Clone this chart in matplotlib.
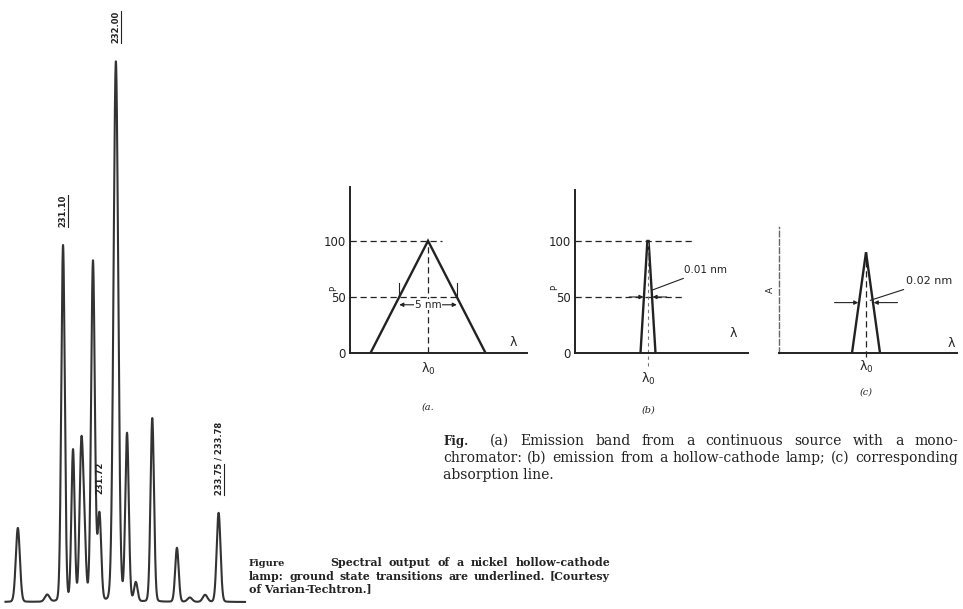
import numpy as np
import matplotlib
matplotlib.use("Agg")
import matplotlib.pyplot as plt
from matplotlib.lines import Line2D
from matplotlib.transforms import IdentityTransform

W, H = 963, 609
INK = "#222222"
SERIF = "DejaVu Serif"

# ---- nickel hollow-cathode spectrum (line position nm, relative height, width nm)
peak_nm = [230.33, 230.83, 231.10, 231.27, 231.41, 231.46, 231.61, 231.72,
           232.00, 232.19, 232.34, 232.62, 233.04, 233.26, 233.52, 233.75]
peak_height = [13.7, 1.3, 66, 28, 27, 12, 63, 16,
               100, 31, 3.5, 34, 10, 0.8, 1.3, 16.5]
peak_sigma = [0.035, 0.04, 0.03, 0.028, 0.03, 0.03, 0.032, 0.03,
              0.04, 0.03, 0.03, 0.03, 0.03, 0.04, 0.04, 0.033]
line_labels = ["232.00", "231.10", "231.72", "233.75 / 233.78"]
label_nm = [232.00, 231.10, 231.72, 233.75]
label_underlined = [True, True, False, True]

# ---- schematic line profiles (offset from lambda0 in nm, signal)
band_x = [-5, 0, 5]                      # (a) monochromator band
band_y = [0, 100, 0]
lamp_x = [-0.01, -0.0008, 0.0008, 0.01]  # (b) hollow-cathode emission
lamp_y = [0, 100, 100, 0]
abs_x = [-0.02, 0, 0.02]                 # (c) absorption line
abs_y = [0, 90, 0]
fwhm = [5, 0.01, 0.02]
fwhm_text = ["5 nm", "0.01 nm", "0.02 nm"]
p_ticks = [0, 50, 100]

caption_right = ["(a) Emission band from a continuous source with a mono-",
                 "chromator: (b) emission from a hollow-cathode lamp; (c) corresponding",
                 "absorption line."]
caption_left = ["Spectral output of a nickel hollow-cathode",
                "lamp: ground state transitions are underlined. [Courtesy",
                "of Varian-Techtron.]"]


def px_rect(x0, y0, x1, y1):
    return [x0 / W, 1 - y1 / H, (x1 - x0) / W, (y1 - y0) / H]


fig = plt.figure(figsize=(W / 100, H / 100), dpi=100)
fig.patch.set_facecolor("white")
renderer = fig.canvas.get_renderer()

# ------------------------------------------------------------------ spectrum
ax = fig.add_axes(px_rect(0, 0, 250, 609))
ax.set_xlim(230.026, 234.285)
ax.set_ylim(-7 / 5.4, 602 / 5.4)
ax.axis("off")

lam = np.linspace(230.12, 234.2, 4000)
sig = np.zeros_like(lam)
for c, h, s in zip(peak_nm, peak_height, peak_sigma):
    d = (lam - c) / s
    sig += h * (0.93 * np.exp(-0.5 * d ** 2) + 0.07 / (1 + d ** 2))
ax.plot(lam, sig, color="#333333", lw=1.5)

label_texts = []
for txt, nm, ul in zip(line_labels, label_nm, label_underlined):
    h = np.interp(nm, lam, sig)
    t = ax.annotate(txt, xy=(nm, h), xytext=(0, 13), textcoords="offset points",
                    rotation=90, ha="center", va="bottom", fontsize=6,
                    fontweight="bold", color=INK)
    label_texts.append((t, ul, txt))

# ------------------------------------------------------------------ panels
LAM0 = "λ$_0$"


def profile_panel(rect, xlim, ylim, px, py, ticks, xpad):
    a = fig.add_axes(px_rect(*rect))
    a.set_xlim(*xlim)
    a.set_ylim(*ylim)
    a.patch.set_alpha(0)
    for side in ["top", "right"]:
        a.spines[side].set_visible(False)
    for side in ["left", "bottom"]:
        a.spines[side].set_linewidth(1.4)
        a.spines[side].set_color(INK)
    a.set_xticks([0])
    a.set_xticklabels([LAM0])
    if ticks:
        a.set_yticks(ticks)
        a.set_yticklabels([str(v) for v in ticks])
    else:
        a.set_yticks([])
    a.tick_params(length=0, pad=3, labelsize=8.5, colors=INK)
    a.tick_params(axis="x", pad=xpad, labelsize=9)
    a.plot(px, py, color=INK, lw=1.7, solid_joinstyle="miter")
    return a


dash = dict(color=INK, lw=0.9, ls=(0, (5, 3)))

# (a)
axa = profile_panel((350, 187, 527, 353), (-6.78, 8.6), (0, 148), band_x, band_y, p_ticks, 6)
axa.plot([-6.78, 1.2], [100, 100], **dash)
axa.plot([-6.78, 2.8], [50, 50], **dash)
axa.plot([0, 0], [0, 100], **dash)
hw = fwhm[0] / 2
for s in (-1, 1):
    axa.plot([s * hw, s * hw], [50, 62], color=INK, lw=0.8)
axa.annotate("", xy=(-hw, 43), xytext=(hw, 43),
             arrowprops=dict(arrowstyle="<|-|>", lw=0.8, color=INK,
                             mutation_scale=6, shrinkA=0, shrinkB=0))
axa.text(0, 43, fwhm_text[0], ha="center", va="center", fontsize=7.5, color=INK,
         bbox=dict(fc="white", ec="none", pad=0.4))
axa.text(7.1, 6, "λ", fontsize=9, color=INK)
axa.text(-0.09, 0.39, "P", rotation=90, fontsize=6, color=INK,
         transform=axa.transAxes, ha="center", va="center")
axa.text(0, -48, "(a.", ha="center", va="center", fontsize=7,
         style="italic", color=INK, family=SERIF, clip_on=False)

# (b)
axb = profile_panel((575, 190, 748, 353), (-0.0973, 0.1333), (0, 145.5), lamp_x, lamp_y, p_ticks, 13)
axb.plot([-0.0973, 0.06], [100, 100], **dash)
axb.plot([-0.0973, 0.045], [50, 50], **dash)
axb.plot([0, 0], [-12, 100], clip_on=False, color="#777777", lw=0.8, ls=(0, (3, 3)))
hw = fwhm[1] / 2
for s in (-1, 1):
    axb.annotate("", xy=(s * (hw + 0.001), 50), xytext=(s * 0.025, 50),
                 arrowprops=dict(arrowstyle="-|>", lw=0.8, color=INK,
                                 mutation_scale=6, shrinkA=0, shrinkB=0))
axb.annotate(fwhm_text[1], xy=(0.005, 56), xytext=(0.048, 74), fontsize=7.5,
             color=INK, va="center",
             arrowprops=dict(arrowstyle="-", lw=0.8, color=INK, shrinkA=1, shrinkB=0))
axb.text(0.109, 14, "λ", fontsize=9, color=INK)
axb.text(-0.12, 0.4, "P", rotation=90, fontsize=6, color=INK,
         transform=axb.transAxes, ha="center", va="center")
axb.text(0, -51, "(b)", ha="center", va="center", fontsize=7,
         style="italic", color=INK, family=SERIF, clip_on=False)

# (c)
axc = profile_panel((779, 227, 957, 353), (-0.1243, 0.13), (0, 112.5), abs_x, abs_y, None, 4)
axc.spines["left"].set_linestyle((0, (4, 2)))
axc.spines["left"].set_linewidth(1.0)
axc.spines["left"].set_color("#666666")
axc.plot([0, 0], [-4, 90], clip_on=False, **dash)
hw = fwhm[2] / 2
for s in (-1, 1):
    axc.annotate("", xy=(s * (hw + 0.001), 45), xytext=(s * 0.045, 45),
                 arrowprops=dict(arrowstyle="-|>", lw=0.8, color=INK,
                                 mutation_scale=6, shrinkA=0, shrinkB=0))
axc.annotate(fwhm_text[2], xy=(0.006, 47), xytext=(0.057, 64), fontsize=8,
             color=INK, va="center",
             arrowprops=dict(arrowstyle="-", lw=0.8, color=INK, shrinkA=1, shrinkB=0))
axc.text(0.116, 5, "λ", fontsize=9, color=INK)
axc.text(-0.05, 0.5, "A", rotation=90, fontsize=6.5, color=INK,
         transform=axc.transAxes, ha="center", va="center")
axc.text(0, -35, "(c)", ha="center", va="center", fontsize=7,
         style="italic", color=INK, family=SERIF, clip_on=False)


# ------------------------------------------------------------------ captions
def width_px(s, size, **kw):
    t = fig.text(0, 0, s, fontsize=size, **kw)
    w = t.get_window_extent(renderer).width
    t.remove()
    return w


def justify(s, x0, x1, y, size, **kw):
    words = s.split()
    ws = [width_px(w, size, **kw) for w in words]
    gap = (x1 - x0 - sum(ws)) / max(len(words) - 1, 1)
    x = x0
    for w, wpx in zip(words, ws):
        fig.text(x / W, 1 - y / H, w, fontsize=size, va="center", color=INK, **kw)
        x += wpx + gap


# right caption
size_r = 10 * 505 / width_px(caption_right[1], 10, family=SERIF)
fig.text(443 / W, 1 - 441 / H, "Fig.", fontsize=size_r * 0.85, fontweight="bold",
         family=SERIF, va="center", color=INK)
justify(caption_right[0], 490, 958, 441, size_r, family=SERIF)
justify(caption_right[1], 443, 958, 458, size_r, family=SERIF)
fig.text(443 / W, 1 - 475 / H, caption_right[2], fontsize=size_r, family=SERIF,
         va="center", color=INK)

# left caption
bold = dict(family=SERIF, fontweight="bold")
size_l = 10 * 350 / width_px(caption_left[1], 10, **bold)
fig.text(249 / W, 1 - 563 / H, "Figure", fontsize=size_l * 0.9, va="center",
         color=INK, **bold)
justify(caption_left[0], 330, 610, 563, size_l, **bold)
justify(caption_left[1], 249, 610, 576, size_l, **bold)
fig.text(249 / W, 1 - 589 / H, caption_left[2], fontsize=size_l, va="center",
         color=INK, **bold)

# underline the ground-state line labels (rotated text -> line on the right side)
fig.canvas.draw()
for t, ul, txt in label_texts:
    if not ul:
        continue
    bb = t.get_window_extent(renderer)
    frac = 1.0 if "/" not in txt else 0.42
    fig.add_artist(Line2D([bb.x1 + 0.5, bb.x1 + 0.5], [bb.y0, bb.y0 + frac * bb.height],
                          transform=IdentityTransform(), color=INK, lw=0.8))

fig.savefig("out.png", dpi=100, facecolor="white")
